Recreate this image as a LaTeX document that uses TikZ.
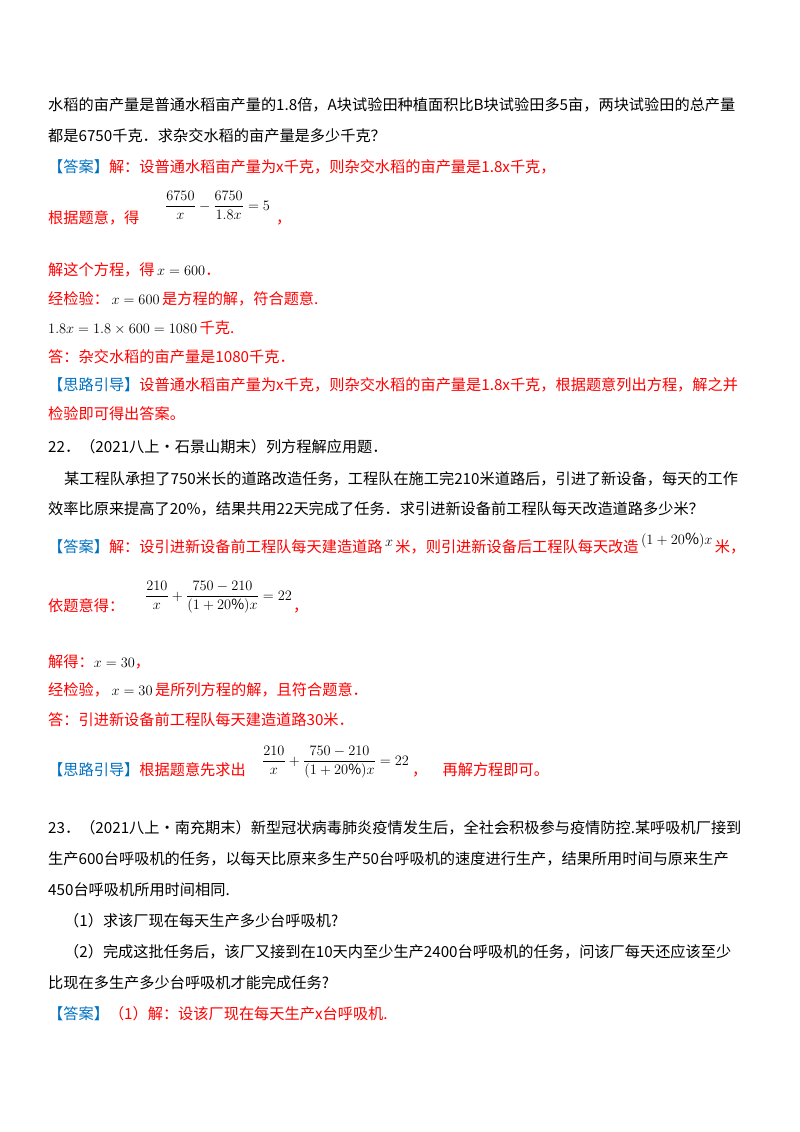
\documentclass[tikz,border=0pt]{standalone}
\usepackage{amsmath}
\usepackage{fontspec}
\setmainfont{Noto Sans CJK SC}
\definecolor{rd}{HTML}{FF0000}
\definecolor{bl}{HTML}{0070C0}
\newcommand{\R}[1]{\textcolor{rd}{#1}}
\newcommand{\B}[1]{\textcolor{bl}{#1}}
\begin{document}
\begin{tikzpicture}[x=1pt,y=-1pt,
  tx/.style={anchor=base west,inner sep=0pt,font=\fontsize{15.2}{18}\selectfont},
  mth/.style={anchor=base west,inner sep=0pt,font=\fontsize{14}{17}\selectfont}]
\useasboundingbox (0,0) rectangle (800,1132);
\node[tx] (l1) at (48,110) {水稻的亩产量是普通水稻亩产量的1.8倍，A块试验田种植面积比B块试验田多5亩，两块试验田的总产量};
\node[tx] (l2) at (48,141) {都是6750千克．求杂交水稻的亩产量是多少千克？};
\node[tx] (l3) at (48,172) {\B{【答案】}\R{解：设普通水稻亩产量为x千克，则杂交水稻的亩产量是1.8x千克，}};
\node[tx] (l4) at (48,223) {\R{根据题意，得}};
\node[mth] (f1) at (165,210) {$\dfrac{6750}{x}-\dfrac{6750}{1.8x}=5$};
\node[tx] (c1) at (276,223) {\R{，}};
\node[tx] (l5) at (48,275) {\R{解这个方程，得}\,$x=600$\R{．}};
\node[tx] (l6) at (48,304) {\R{经检验：}\,$x=600$\,\R{是方程的解，符合题意.}};
\node[tx] (l7) at (48,333) {$1.8x=1.8\times600=1080$\,\R{千克.}};
\node[tx] (l8) at (48,362) {\R{答：杂交水稻的亩产量是1080千克．}};
\node[tx] (l9) at (48,390) {\B{【思路引导】}\R{设普通水稻亩产量为x千克，则杂交水稻的亩产量是1.8x千克，根据题意列出方程，解之并}};
\node[tx] (l10) at (48,419) {\R{检验即可得出答案。}};
\node[tx] (l11) at (48,452) {22．（2021八上•石景山期末）列方程解应用题．};
\node[tx] (l12) at (64,484) {某工程队承担了750米长的道路改造任务，工程队在施工完210米道路后，引进了新设备，每天的工作};
\node[tx] (l13) at (48,514) {效率比原来提高了20\%，结果共用22天完成了任务．求引进新设备前工程队每天改造道路多少米？};
\node[tx] (l14) at (48,552) {\B{【答案】}\R{解：设引进新设备前工程队每天建造道路}\raisebox{6pt}{$\,x\,$}\R{米，则引进新设备后工程队每天改造}\raisebox{8pt}{$\,(1+20\%)x\,$}\R{米，}};
\node[tx] (l15) at (48,611) {\R{依题意得：}};
\node[mth] (f2) at (145,600) {$\dfrac{210}{x}+\dfrac{750-210}{(1+20\%)x}=22$};
\node[tx] (c2) at (293,611) {\R{，}};
\node[tx] (l16) at (48,667) {\R{解得：}$x=30$\R{，}};
\node[tx] (l17) at (48,695) {\R{经检验，}\,$x=30$\,\R{是所列方程的解，且符合题意．}};
\node[tx] (l18) at (48,725) {\R{答：引进新设备前工程队每天建造道路30米．}};
\node[tx] (l19) at (48,775) {\B{【思路引导】}\R{根据题意先求出}};
\node[mth] (f3) at (262,765) {$\dfrac{210}{x}+\dfrac{750-210}{(1+20\%)x}=22$};
\node[tx] (c3) at (412,775) {\R{，\quad 再解方程即可。}};
\node[tx] (l20) at (48,833) {23．（2021八上•南充期末）新型冠状病毒肺炎疫情发生后，全社会积极参与疫情防控.某呼吸机厂接到};
\node[tx] (l21) at (48,864) {生产600台呼吸机的任务，以每天比原来多生产50台呼吸机的速度进行生产，结果所用时间与原来生产};
\node[tx] (l22) at (48,895) {450台呼吸机所用时间相同.};
\node[tx] (l23) at (64,926) {（1）求该厂现在每天生产多少台呼吸机?};
\node[tx] (l24) at (64,957) {（2）完成这批任务后，该厂又接到在10天内至少生产2400台呼吸机的任务，问该厂每天还应该至少};
\node[tx] (l25) at (48,988) {比现在多生产多少台呼吸机才能完成任务?};
\node[tx] (l26) at (48,1019) {\B{【答案】}\R{（1）解：设该厂现在每天生产x台呼吸机.}};
\end{tikzpicture}
\end{document}
